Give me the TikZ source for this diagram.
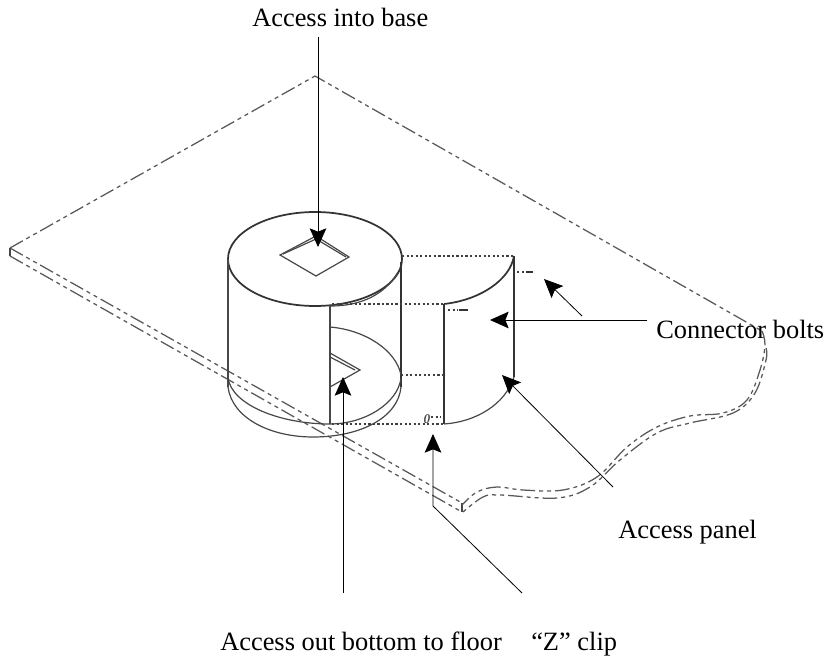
\documentclass[tikz,border=0pt]{standalone}
\usepackage{fontspec}
\setmainfont{Liberation Serif}
\usetikzlibrary{arrows.meta}

\begin{document}
\begin{tikzpicture}[
    x=0.75pt, y=-0.75pt,
    label/.style={anchor=base west, inner sep=0pt, font=\fontsize{19.8}{22}\selectfont},
    arrow/.style={-{Stealth[length=14pt,width=12.5pt,inset=2.5pt]}, line width=0.6pt},
    solid line/.style={line width=0.9pt, black!72},
    heavy line/.style={line width=1.3pt, black!80},
    dotted line/.style={line width=1pt, black!75, dash pattern=on 1.7pt off 1.7pt},
    plate line/.style={line width=0.95pt, black!65, dash pattern=on 11pt off 3pt on 3pt off 3pt on 3pt off 3pt}
]
\useasboundingbox (0,0) rectangle (828,659);

% Base plate
\draw[plate line] (10,248) -- (315,76) -- (762,331);
\draw[plate line] (10,248) -- (462,503);
\draw[plate line] (10,256) -- (462,512);
\draw[solid line] (10,248) -- (10,256);
\draw[solid line] (462,503) -- (462,512);
\draw[plate line] plot[smooth, tension=0.6] coordinates {(762,331) (765,345) (760,370) (747,400) (723,413)
    (690,416) (657,427) (627,447) (597,477) (563,490) (523,490) (497,487) (477,492) (462,505)};
\draw[plate line] plot[smooth, tension=0.6] coordinates {(766,348) (766,360) (755,393) (733,413) (690,423)
    (657,433) (620,460) (590,487) (557,498) (500,495) (483,497) (463,512)};

% Cylinder
\draw[heavy line, fill=white] (315,259) ellipse [x radius=87, y radius=47];
\draw[solid line] (228,259) -- (228,387);
\draw[heavy line] (401,262) -- (401,387);
\draw[solid line] (330,305) -- (330,424);
\draw[solid line] (228,378) .. controls (232,405) and (280,424) .. (330,424)
    .. controls (365,424) and (398,403) .. (401,378);
\draw[solid line] (228,387) .. controls (232,418) and (270,437) .. (313,437)
    .. controls (360,437) and (398,418) .. (401,387);
\draw[solid line] (330,327) .. controls (365,330) and (396,350) .. (401,375);
\draw[solid line] (331,306) .. controls (360,306) and (385,295) .. (398,272);

% Square and triangle holes
\draw[solid line] (280,255) -- (316,236) -- (349,257) -- (316,276) -- cycle;
\draw[solid line] (283,254) -- (316,239) -- (346,257);
\draw[solid line] (330,353) -- (360,370) -- (330,387);
\draw[solid line] (330,357) -- (355,370);

% Access panel
\draw[heavy line] (444,304) -- (444,424);
\draw[heavy line] (514,256) -- (514,377);
\draw[heavy line] (514,256) .. controls (510,280) and (480,300) .. (444,304);
\draw[solid line] (444,424) .. controls (475,422) and (505,405) .. (514,377);
\draw[dotted line] (402,256) -- (513,256);
\draw[dotted line] (332,304) -- (444,304);
\draw[dotted line] (401,375) -- (444,375);
\draw[dotted line] (332,424) -- (444,424);

% Bolts and clip
\draw[dotted line] (517,272) -- (525,272);
\draw[heavy line] (526,272) -- (533,272);
\draw[dotted line] (448,310) -- (458,310);
\draw[heavy line] (459,310) -- (468,310);
\draw[dotted line] (431,417) -- (441,417);
\node[inner sep=0pt, font=\bfseries\itshape\fontsize{10}{10}\selectfont, black!70] (clipmark) at (427,419) {0};

% Labels
\node[label] (intobase) at (252,27) {Access into base};
\node[label] (bolts) at (656,339) {Connector bolts};
\node[label] (panel) at (618,538) {Access panel};
\node[label] (outbottom) at (220,650) {Access out bottom to floor};
\node[label] (zclip) at (531,650) {“Z” clip};

% Arrows
\coordinate (intotail) at (318,37);
\coordinate (intotip) at (318,247);
\coordinate (outtail) at (343,593);
\coordinate (outtip) at (343,377);
\coordinate (cliptail) at (522,593);
\coordinate (clipbend) at (433,506);
\coordinate (cliptip) at (433,434);
\coordinate (paneltail) at (613,487);
\coordinate (paneltip) at (502,375);
\coordinate (bolttailA) at (582,316);
\coordinate (bolttipA) at (544,279);
\coordinate (bolttailB) at (647,320);
\coordinate (bolttipB) at (490,320);
\draw[arrow] (intotail) -- (intotip);
\draw[arrow] (outtail) -- (outtip);
\draw[arrow] (cliptail) -- (clipbend) -- (cliptip);
\draw[arrow] (paneltail) -- (paneltip);
\draw[arrow] (bolttailA) -- (bolttipA);
\draw[arrow] (bolttailB) -- (bolttipB);

\end{tikzpicture}
\end{document}
